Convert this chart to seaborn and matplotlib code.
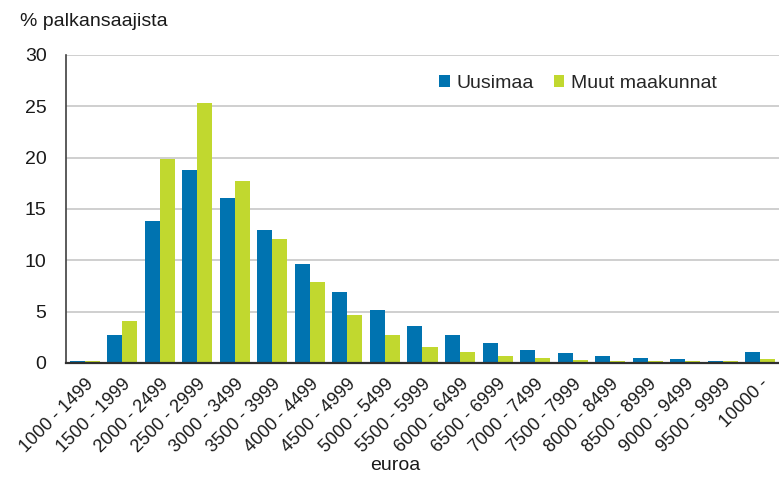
import matplotlib
matplotlib.use('Agg')
import matplotlib.pyplot as plt
import seaborn as sns
import pandas as pd

# ── Data ──────────────────────────────────────────────────────────────────────
categories = [
    "1000 - 1499", "1500 - 1999", "2000 - 2499", "2500 - 2999", "3000 - 3499",
    "3500 - 3999", "4000 - 4499", "4500 - 4999", "5000 - 5499", "5500 - 5999",
    "6000 - 6499", "6500 - 6999", "7000 - 7499", "7500 - 7999", "8000 - 8499",
    "8500 - 8999", "9000 - 9499", "9500 - 9999", "10000 -",
]
uusimaa = [0.2, 2.7, 13.8, 18.8, 16.1, 13.0, 9.6, 6.9, 5.2, 3.6,
           2.7, 1.9, 1.3, 0.95, 0.65, 0.45, 0.35, 0.18, 1.1]
muut    = [0.2, 4.1, 19.9, 25.3, 17.7, 12.1, 7.9, 4.7, 2.7, 1.6,
           1.1, 0.65, 0.45, 0.3, 0.2, 0.2, 0.2, 0.18, 0.35]
series_names = ["Uusimaa", "Muut maakunnat"]
colors = ["#0073b0", "#c1d82f"]

df = pd.DataFrame({
    "luokka": categories * 2,
    "osuus":  uusimaa + muut,
    "alue":   [series_names[0]] * len(categories) + [series_names[1]] * len(categories),
})

# ── Plot ───────────────────────────────────────────────────────────────────────
sns.set_style("white")
plt.rcParams["font.family"] = ["Liberation Sans", "DejaVu Sans"]

fig = plt.figure(figsize=(7.79, 4.78), dpi=100)
ax = fig.add_axes([0.0847, 0.2406, 0.9153, 0.6444])

sns.barplot(data=df, x="luokka", y="osuus", hue="alue", order=categories,
            hue_order=series_names, palette=colors, width=0.8, saturation=1,
            linewidth=0, ax=ax)

ax.set_ylim(0, 30)
ax.set_yticks(range(0, 31, 5))
ax.yaxis.grid(True, color="#cccccc", linewidth=1.3)
ax.set_axisbelow(True)
ax.tick_params(axis="both", length=0, colors="#1a1a1a")
ax.tick_params(axis="y", pad=14, labelsize=14)
ax.tick_params(axis="x", pad=9, labelsize=13)
plt.setp(ax.get_xticklabels(), rotation=45, ha="right", va="top",
         rotation_mode="anchor")

for side in ["top", "right"]:
    ax.spines[side].set_visible(False)
ax.spines["left"].set_color("#404040")
ax.spines["left"].set_linewidth(1.2)
ax.spines["bottom"].set_color("#303030")
ax.spines["bottom"].set_linewidth(1.6)

ax.set_xlabel("")
ax.set_ylabel("")
fig.text(0.026, 0.954, "% palkansaajista", fontsize=14, color="#1a1a1a",
         ha="left", va="center")
fig.text(0.507, 0.026, "euroa", fontsize=14, color="#1a1a1a",
         ha="center", va="center")

ax.legend(loc="center left", bbox_to_anchor=(0.564, 0.826),
          bbox_transform=fig.transFigure, ncol=2, frameon=False,
          fontsize=14, handlelength=0.55, handleheight=0.55,
          handletextpad=0.35, columnspacing=1.0, borderpad=0, borderaxespad=0)

plt.savefig("out.png", dpi=100)
plt.close()
